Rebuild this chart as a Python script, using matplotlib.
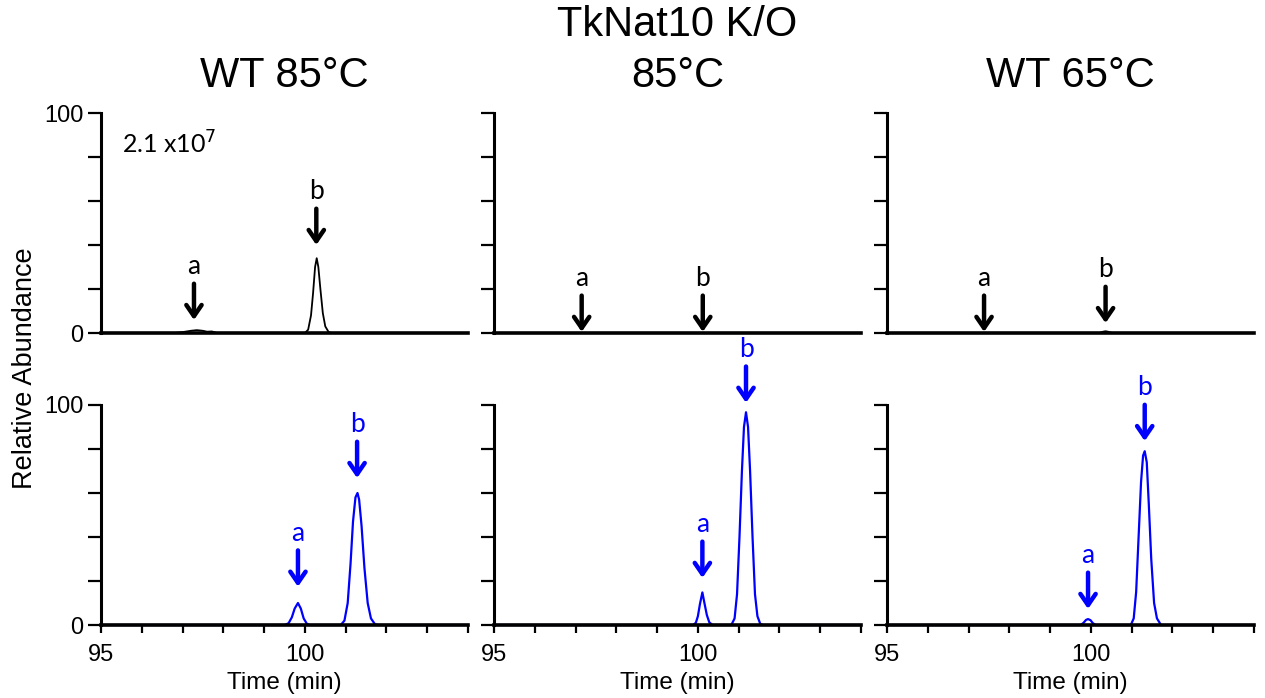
import matplotlib
matplotlib.use("Agg")
import matplotlib.pyplot as plt

plt.rcParams['font.family'] = ['Liberation Sans', 'DejaVu Sans']

# titles of the three columns
titles = ["WT 85°C", "TkNat10 K/O\n85°C", "WT 65°C"]

# top row (black) traces
top_x = [
    [95, 96.8, 97.0, 97.2, 97.35, 97.5, 97.6, 97.72, 97.85, 100.0, 100.08, 100.15,
     100.2, 100.25, 100.29, 100.33, 100.38, 100.44, 100.5, 100.58, 100.65, 104],
    [95, 104],
    [95, 100.2, 100.3, 100.36, 100.42, 100.52, 104],
]
top_y = [
    [0, 0, 0.4, 1.0, 1.3, 1.0, 0.6, 0.7, 0, 0, 1.5, 8,
     18, 30, 34, 30, 20, 9, 3, 0.5, 0, 0],
    [0, 0],
    [0, 0, 0.6, 0.8, 0.6, 0, 0],
]

# bottom row (blue) traces
bot_x = [
    [95, 99.5, 99.6, 99.68, 99.75, 99.83, 99.9, 99.97, 100.05, 100.12,
     100.88, 100.97, 101.05, 101.12, 101.18, 101.24, 101.29, 101.33, 101.39,
     101.46, 101.54, 101.62, 101.72, 101.8, 104],
    [95, 99.88, 99.95, 100.0, 100.05, 100.11, 100.16, 100.22, 100.28, 100.36,
     100.82, 100.9, 100.96, 101.02, 101.08, 101.13, 101.18, 101.23, 101.28,
     101.34, 101.4, 101.46, 101.53, 101.6, 104],
    [95, 99.75, 99.82, 99.88, 99.93, 99.99, 100.05, 100.12,
     100.98, 101.05, 101.11, 101.17, 101.23, 101.28, 101.32, 101.37, 101.42,
     101.48, 101.55, 101.62, 101.72, 104],
]
bot_y = [
    [0, 0, 0.8, 3.5, 7.5, 10, 7.5, 3, 0.5, 0,
     0, 2, 10, 28, 47, 58, 60, 57, 45,
     26, 10, 3, 0.3, 0, 0],
    [0, 0, 1, 4, 9.5, 14.8, 10, 4.5, 1.2, 0,
     0, 3, 14, 40, 70, 90, 96.7, 90, 70,
     40, 14, 4, 0.5, 0, 0],
    [0, 0, 1, 2.3, 2.7, 2.2, 0.8, 0,
     0, 3, 15, 40, 65, 77, 79, 74, 55,
     30, 10, 3, 0, 0],
]

# peak arrows: (label, x, tip y)
top_arrows = [
    [("a", 97.28, 5.9), ("b", 100.28, 40)],
    [("a", 97.15, 0.5), ("b", 100.12, 0.5)],
    [("a", 97.38, 0.5), ("b", 100.36, 4.5)],
]
bot_arrows = [
    [("a", 99.83, 17.4), ("b", 101.28, 66.8)],
    [("a", 100.11, 21.4), ("b", 101.18, 101)],
    [("a", 99.93, 7.3), ("b", 101.32, 83.6)],
]

xticks = list(range(95, 105))
yticks = [0, 20, 40, 60, 80, 100]

fig = plt.figure(figsize=(12.65, 6.98), dpi=100)

lefts = [101 / 1265, 494 / 1265, 887 / 1265]
w = 367 / 1265
h = 220 / 698
bottoms = [1 - 333 / 698, 1 - 625 / 698]

arrow_len = 16.5


def style(ax, first, bottom_row):
    for s in ["top", "right"]:
        ax.spines[s].set_visible(False)
    ax.spines["left"].set_linewidth(2.2)
    ax.spines["bottom"].set_linewidth(2.6)
    ax.set_xlim(95, 104)
    ax.set_ylim(0, 100)
    ax.set_xticks(xticks)
    ax.set_yticks(yticks)
    ax.tick_params(axis="y", direction="out", length=9.5, width=1.6, labelsize=17, pad=3)
    ax.tick_params(axis="x", direction="out", length=6, width=1.6, labelsize=17, pad=8)
    if first:
        ax.set_yticklabels(["0", "", "", "", "", "100"])
    else:
        ax.set_yticklabels([])
    if bottom_row:
        ax.set_xticklabels(["95", "", "", "", "", "100", "", "", "", ""])
        ax.set_xlabel("Time (min)", fontsize=17.5, labelpad=4)
    else:
        ax.tick_params(axis="x", length=0)
        ax.set_xticklabels([])


def arrows(ax, items, color):
    for lab, x, tip in items:
        ax.annotate("", xy=(x, tip), xytext=(x, tip + arrow_len),
                    arrowprops=dict(arrowstyle="->,head_length=0.8,head_width=0.55",
                                    color=color, lw=3.2, shrinkA=0, shrinkB=0),
                    annotation_clip=False)
        ax.text(x, tip + arrow_len + 2.0, lab, color=color, ha="center", va="bottom",
                fontsize=19, family=["Lato", "DejaVu Sans"], clip_on=False)


for i in range(3):
    ax_t = fig.add_axes([lefts[i], bottoms[0], w, h])
    style(ax_t, i == 0, False)
    ax_t.plot(top_x[i], top_y[i], color="black", lw=1.3, clip_on=False)
    arrows(ax_t, top_arrows[i], "black")

    ax_b = fig.add_axes([lefts[i], bottoms[1], w, h])
    style(ax_b, i == 0, True)
    ax_b.plot(bot_x[i], bot_y[i], color="#0000ff", lw=1.6, clip_on=False)
    arrows(ax_b, bot_arrows[i], "#0000ff")

    if i == 0:
        ax_t.text(0.057, 0.86, "2.1 x10$^7$", transform=ax_t.transAxes, fontsize=18,
                  family=["Lato", "DejaVu Sans"], va="center", ha="left")

    cx = lefts[i] + w / 2
    fig.text(cx, 1 - 76 / 698, titles[i].split("\n")[-1], ha="center", va="center", fontsize=30)
    if "\n" in titles[i]:
        fig.text(cx, 1 - 25 / 698, titles[i].split("\n")[0], ha="center", va="center", fontsize=30)

fig.text(25 / 1265, 1 - 368 / 698, "Relative Abundance", rotation=90,
         ha="center", va="center", fontsize=19.5)

fig.savefig("out.png", dpi=100)
